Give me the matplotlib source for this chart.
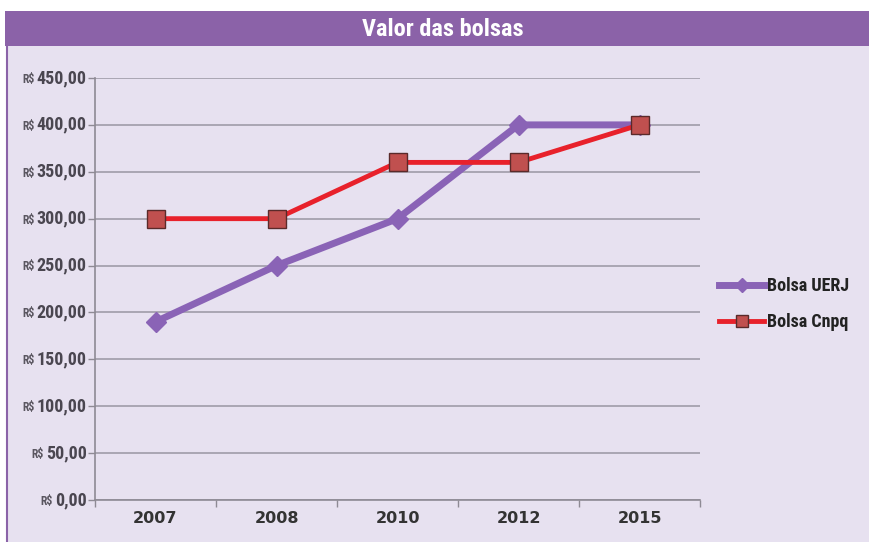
import matplotlib
matplotlib.use("Agg")
import matplotlib.pyplot as plt
from matplotlib.patches import Rectangle
from matplotlib.lines import Line2D
from matplotlib import font_manager as fm

categories = ["2007", "2008", "2010", "2012", "2015"]
uerj = [190, 250, 300, 400, 400]
cnpq = [300, 300, 360, 360, 400]
yticks = [0, 50, 100, 150, 200, 250, 300, 350, 400, 450]
ytick_labels = ["0,00", "50,00", "100,00", "150,00", "200,00", "250,00",
                "300,00", "350,00", "400,00", "450,00"]
title = "Valor das bolsas"

# pick a condensed font if available
names = {f.name for f in fm.fontManager.ttflist}
cond_stretch = {(f.name, f.stretch) for f in fm.fontManager.ttflist}
narrow_family = None
narrow_stretch = "normal"
for cand in ["Liberation Sans Narrow", "Roboto Condensed", "Open Sans Condensed",
             "DejaVu Sans Condensed", "Noto Sans Condensed"]:
    if cand in names:
        narrow_family = cand
        break
if narrow_family is None:
    for (n, s) in cond_stretch:
        if n in ("DejaVu Sans", "Roboto", "Open Sans", "Noto Sans") and s not in ("normal", 500):
            narrow_family = n
            narrow_stretch = "condensed"
            break
if narrow_family is None:
    narrow_family = "DejaVu Sans"
narrow = [narrow_family, "DejaVu Sans"]
is_cond = narrow_family != "DejaVu Sans" or narrow_stretch == "condensed"
scale = 1.0 if is_cond else 0.8

W, H = 869, 542
fig = plt.figure(figsize=(W / 100, H / 100), dpi=100)
fig.patch.set_facecolor("white")

# panel background
fig.add_artist(Rectangle((7 / W, 0), 1 - 7 / W, (H - 45) / H, transform=fig.transFigure,
                         facecolor="#E7E1F0", edgecolor="none", zorder=0))
fig.add_artist(Line2D([7 / W, 7 / W], [0, (H - 45) / H], transform=fig.transFigure,
                      color="#8B63A8", lw=1.5, zorder=1))
# header band
fig.add_artist(Rectangle((5 / W, (H - 46) / H), 1 - 5 / W, 35 / H, transform=fig.transFigure,
                         facecolor="#8B62A8", edgecolor="none", zorder=1))
fig.text(443 / W, (H - 29) / H, title, color="white", fontsize=17.5 * scale, fontweight="bold",
         family=narrow, stretch=narrow_stretch, ha="center", va="center", zorder=2)

ax = fig.add_axes([95 / W, 42 / H, 605 / W, 422 / H])
ax.set_facecolor("none")
x = list(range(len(categories)))
ax.set_xlim(-0.5, len(categories) - 0.5)
ax.set_ylim(0, 450)

ax.set_yticks(yticks)
ax.set_yticklabels([""] * len(yticks))
ax.yaxis.grid(True, color="#A09CA8", lw=1.2)
ax.set_axisbelow(True)
ax.tick_params(axis="y", length=5, color="#8E8A94", width=1)
ax.set_xticks(x)
ax.set_xticklabels(categories, fontsize=11.5, fontweight="bold", color="#333333",
                   family="DejaVu Sans")
ax.tick_params(axis="x", length=0, pad=8)
ax.set_xticks([i - 0.5 for i in range(len(categories) + 1)], minor=True)
ax.tick_params(axis="x", which="minor", length=5, color="#8E8A94", width=1)
for s in ["top", "right"]:
    ax.spines[s].set_visible(False)
for s in ["left", "bottom"]:
    ax.spines[s].set_color("#8E8A94")
    ax.spines[s].set_linewidth(1.2)

ax.plot(x, uerj, color="#8A63B6", lw=5, marker="D", markersize=10,
        markerfacecolor="#8A63B6", markeredgecolor="#8A63B6", label="Bolsa UERJ", zorder=3)
ax.plot(x, cnpq, color="#E8212B", lw=3.5, marker="s", markersize=13,
        markerfacecolor="#C0504F", markeredgecolor="#5A2A2A", markeredgewidth=1,
        label="Bolsa Cnpq", zorder=4)

# y tick labels: small "R$" + bold number
fig.canvas.draw()
renderer = fig.canvas.get_renderer()
for v, lab in zip(yticks, ytick_labels):
    t = ax.annotate(lab, xy=(0, v), xycoords=("axes fraction", "data"),
                    xytext=(-6, 0), textcoords="offset points", ha="right", va="center",
                    fontsize=13 * scale, fontweight="bold", color="#4A4650",
                    family=narrow, stretch=narrow_stretch)
    bb = t.get_window_extent(renderer)
    wpts = bb.width * 72 / fig.dpi
    ax.annotate("R$", xy=(0, v), xycoords=("axes fraction", "data"),
                xytext=(-6 - wpts - 1.5, -1), textcoords="offset points", ha="right",
                va="center", fontsize=8.5 * scale, fontweight="bold", color="#5A5660",
                family=narrow, stretch=narrow_stretch)

leg = fig.legend(handles=ax.get_lines(), loc="center left",
                 bbox_to_anchor=(703 / W, (H - 304) / H), frameon=False,
                 prop={"family": narrow, "weight": "bold", "size": 13 * scale,
                       "stretch": narrow_stretch},
                 handlelength=2.5, handletextpad=0.15, labelspacing=1.0,
                 markerscale=0.7, numpoints=1)
for t in leg.get_texts():
    t.set_color("#222222")

fig.savefig("out.png", dpi=100, facecolor=fig.get_facecolor())
